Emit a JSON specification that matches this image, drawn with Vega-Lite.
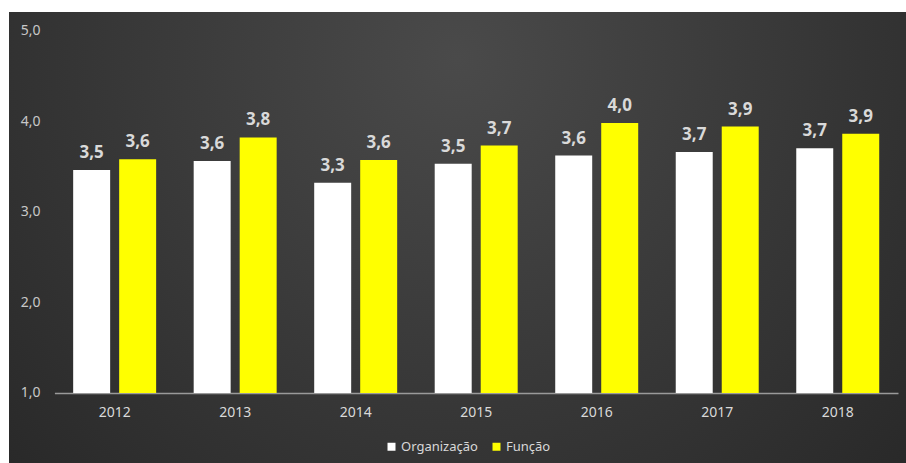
{
  "$schema": "https://vega.github.io/schema/vega-lite/v6.json",
  "width": 897,
  "height": 451,
  "autosize": {"type": "none"},
  "padding": {"left": 9, "top": 12, "right": 0, "bottom": 0},
  "background": "#ffffff",
  "view": {
    "stroke": null,
    "fill": {
      "gradient": "radial",
      "x1": 0.5, "y1": 0.3, "r1": 0,
      "x2": 0.5, "y2": 0.3, "r2": 0.8,
      "stops": [
        {"offset": 0, "color": "#4a4a4a"},
        {"offset": 1, "color": "#232323"}
      ]
    }
  },
  "config": {
    "locale": {"number": {"decimal": ",", "thousands": ".", "grouping": [3], "currency": ["R$", ""]}},
    "font": "Noto Sans",
    "axis": {"grid": false, "ticks": false, "title": null, "labelFont": "Noto Sans"},
    "legend": {"title": null}
  },
  "data": {
    "values": [
      {"ano": "2012", "serie": "Organização", "valor": 3.46},
      {"ano": "2012", "serie": "Função", "valor": 3.58},
      {"ano": "2013", "serie": "Organização", "valor": 3.56},
      {"ano": "2013", "serie": "Função", "valor": 3.82},
      {"ano": "2014", "serie": "Organização", "valor": 3.32},
      {"ano": "2014", "serie": "Função", "valor": 3.57},
      {"ano": "2015", "serie": "Organização", "valor": 3.53},
      {"ano": "2015", "serie": "Função", "valor": 3.73},
      {"ano": "2016", "serie": "Organização", "valor": 3.62},
      {"ano": "2016", "serie": "Função", "valor": 3.98},
      {"ano": "2017", "serie": "Organização", "valor": 3.66},
      {"ano": "2017", "serie": "Função", "valor": 3.94},
      {"ano": "2018", "serie": "Organização", "valor": 3.70},
      {"ano": "2018", "serie": "Função", "valor": 3.86}
    ]
  },
  "encoding": {
    "x": {
      "field": "ano", "type": "nominal",
      "scale": {"range": [45.4, 889], "paddingInner": 0, "paddingOuter": 0},
      "axis": {
        "labelAngle": 0, "labelColor": "#d9d9d9", "labelFontSize": 14,
        "labelPadding": 12, "domainColor": "#9a9a9a", "domainWidth": 1.5,
        "offset": -70
      }
    },
    "xOffset": {
      "field": "serie", "type": "nominal",
      "sort": ["Organização", "Função"],
      "scale": {"paddingInner": 0.196, "paddingOuter": 0.408}
    },
    "y": {
      "field": "valor", "type": "quantitative",
      "scale": {"domain": [0.227, 5.204], "nice": false, "zero": false},
      "axis": {
        "values": [1, 2, 3, 4, 5], "format": ".1f", "domain": false,
        "offset": -31, "labelPadding": 0, "labelColor": "#c8c8c8",
        "labelFontSize": 14, "labelAlign": "right"
      }
    }
  },
  "layer": [
    {
      "mark": {"type": "bar"},
      "encoding": {
        "y2": {"datum": 1},
        "color": {
          "field": "serie", "type": "nominal",
          "scale": {"domain": ["Organização", "Função"], "range": ["#ffffff", "#ffff00"]},
          "legend": {
            "orient": "none", "legendX": 376, "legendY": 428,
            "direction": "horizontal", "symbolType": "square", "symbolSize": 64,
            "symbolStrokeWidth": 0, "labelColor": "#d9d9d9", "labelFontSize": 13,
            "labelFont": "Noto Sans", "labelOffset": 3, "columnPadding": 12, "padding": 0
          }
        }
      }
    },
    {
      "mark": {"type": "text", "baseline": "alphabetic", "dy": -12, "fontSize": 17, "fontWeight": "bold", "color": "#d9d9d9"},
      "encoding": {
        "text": {"field": "valor", "type": "quantitative", "format": ".1f"}
      }
    }
  ]
}
